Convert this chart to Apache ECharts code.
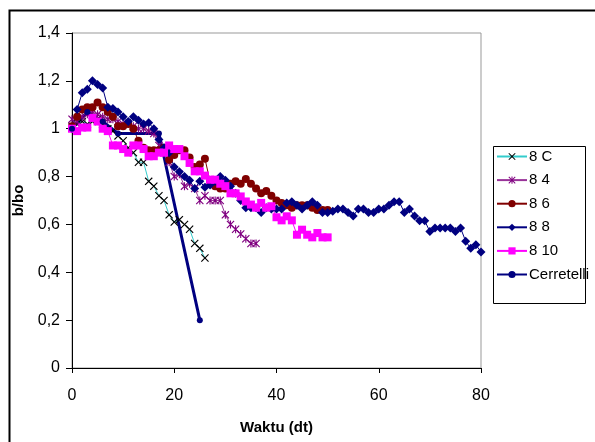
<!DOCTYPE html>
<html>
<head>
<meta charset="utf-8">
<title>b/bo - Waktu</title>
<script src="https://cdn.jsdelivr.net/npm/echarts@6/dist/echarts.min.js"></script>
<style>
  html, body { margin: 0; padding: 0; background: #fff; }
</style>
</head>
<body>
<div id="main" style="width:595px;height:442px;"></div>
<script type="text/javascript">
// data
var names = ['8 C', '8 4', '8 6', '8 8', '8 10', 'Cerretelli'];

var x8C = [0,1,2,3,4,5,6,7,8,9,10,11,12,13,14,15,16,17,18,19,20,21,22,23,24,25,26];
var y8C = [1.01,1.02,1.03,1.02,1.03,1.04,1.02,1.0,0.99,0.97,0.95,0.92,0.9,0.86,0.86,0.78,0.76,0.72,0.7,0.64,0.61,0.62,0.6,0.58,0.52,0.5,0.46];

var x84 = [0,1,2,3,4,5,6,7,8,9,10,11,12,13,14,15,16,17,18,19,20,21,22,23,24,25,26,27,28,29,30,31,32,33,34,35,36];
var y84 = [1.04,1.03,1.05,1.06,1.07,1.06,1.05,1.04,1.04,1.03,1.02,1.02,1.01,1.0,1.0,0.99,0.98,0.93,0.9,0.86,0.8,0.81,0.76,0.77,0.75,0.7,0.72,0.7,0.7,0.7,0.64,0.6,0.58,0.56,0.54,0.52,0.52];

var x86 = [0,1,2,3,4,5,6,7,8,9,10,11,12,13,14,15,16,17,18,19,20,21,22,23,24,25,26,27,28,29,30,31,32,33,34,35,36,37,38,39,40,41,42,43,44,45,46,47,48,49,50];
var y86 = [1.01,1.05,1.08,1.09,1.09,1.11,1.09,1.07,1.05,1.01,1.01,1.02,1.0,0.95,0.92,0.91,0.91,0.91,0.92,0.87,0.89,0.91,0.91,0.88,0.84,0.85,0.875,0.78,0.76,0.75,0.75,0.77,0.78,0.77,0.79,0.77,0.75,0.73,0.74,0.72,0.7,0.69,0.68,0.67,0.68,0.68,0.68,0.67,0.66,0.66,0.66];

var x88 = [0,1,2,3,4,5,6,7,8,9,10,11,12,13,14,15,16,17,18,19,20,21,22,23,24,25,26,27,28,29,30,31,32,33,34,35,36,37,38,39,40,41,42,43,44,45,46,47,48,49,50,51,52,53,54,55,56,57,58,59,60,61,62,63,64,65,66,67,68,69,70,71,72,73,74,75,76,77,78,79,80];
var y88 = [1.0,1.08,1.15,1.165,1.2,1.185,1.17,1.09,1.085,1.07,1.05,1.03,1.05,1.035,1.02,1.025,1.0,0.955,0.92,0.9,0.84,0.82,0.8,0.785,0.75,0.78,0.755,0.765,0.78,0.8,0.785,0.76,0.73,0.7,0.67,0.67,0.67,0.65,0.67,0.665,0.665,0.665,0.69,0.695,0.68,0.665,0.68,0.695,0.68,0.65,0.65,0.655,0.665,0.665,0.65,0.635,0.665,0.665,0.65,0.65,0.665,0.665,0.68,0.695,0.695,0.65,0.665,0.635,0.615,0.615,0.57,0.585,0.585,0.585,0.585,0.57,0.585,0.53,0.5,0.515,0.485];

var x810 = [0,1,2,3,4,5,6,7,8,9,10,11,12,13,14,15,16,17,18,19,20,21,22,23,24,25,26,27,28,29,30,31,32,33,34,35,36,37,38,39,40,41,42,43,44,45,46,47,48,49,50];
var y810 = [1.0,0.99,1.005,1.005,1.045,1.03,1.0,0.99,0.93,0.93,0.915,0.9,0.93,0.93,0.915,0.885,0.885,0.9,0.9,0.93,0.915,0.915,0.885,0.857,0.822,0.822,0.804,0.787,0.787,0.77,0.76,0.73,0.73,0.717,0.696,0.683,0.67,0.69,0.67,0.676,0.63,0.617,0.634,0.617,0.557,0.578,0.557,0.546,0.564,0.546,0.546];

var xCer = [0,3,6,9,17,25];
var yCer = [1.0,1.07,1.03,0.98,0.98,0.2];

var xTicks = [0, 20, 40, 60, 80];
var yTicks = [0, 0.2, 0.4, 0.6, 0.8, 1, 1.2, 1.4];

function zip(xs, ys) {
  var out = [];
  for (var i = 0; i < xs.length; i++) out.push([xs[i], ys[i]]);
  return out;
}

var crossPath = 'path://M0,1L1,0L5,4L9,0L10,1L6,5L10,9L9,10L5,6L1,10L0,9L4,5Z';
var starPath = 'path://M0,1L1,0L5,4L9,0L10,1L6,5L10,9L9,10L5,6L1,10L0,9L4,5Z M4.3,0L5.7,0L5.7,10L4.3,10Z';

var myChart = echarts.init(document.getElementById('main'), null, { renderer: 'canvas' });

var fontFam = 'Liberation Sans, Arial, sans-serif';

var option = {
  animation: false,
  backgroundColor: '#fff',
  textStyle: { fontFamily: fontFam },
  graphic: [
    { // outer frame
      type: 'rect', left: 7, top: 8, z: 0,
      shape: { width: 600, height: 450 },
      style: { fill: 'none', stroke: '#000', lineWidth: 2 }
    },
    { // legend box
      type: 'rect', left: 493, top: 146, z: 0,
      shape: { width: 92, height: 157 },
      style: { fill: '#fff', stroke: '#000', lineWidth: 1 }
    }
  ],
  grid: {
    left: 72, right: 114, top: 33, bottom: 74,
    show: true, borderColor: '#999', borderWidth: 1, backgroundColor: 'transparent'
  },
  legend: {
    orient: 'vertical',
    left: 496, top: 149,
    padding: 0,
    itemWidth: 30, itemHeight: 9, itemGap: 8.6,
    textStyle: { fontSize: 15, color: '#000', fontFamily: fontFam, padding: [0, 0, 0, -3] },
    data: names
  },
  xAxis: {
    type: 'value', min: 0, max: 80, interval: 20,
    name: 'Waktu (dt)', nameLocation: 'middle', nameGap: 52,
    nameTextStyle: { fontSize: 15, fontWeight: 'bold', color: '#000' },
    axisLine: { lineStyle: { color: '#000', width: 1 } },
    axisTick: { show: true, length: 5, lineStyle: { color: '#000' } },
    axisLabel: { fontSize: 16, color: '#000', margin: 20 },
    splitLine: { show: false }
  },
  yAxis: {
    type: 'value', min: 0, max: 1.4, interval: 0.2,
    name: 'b/bo', nameLocation: 'middle', nameGap: 45, nameRotate: 90,
    nameTextStyle: { fontSize: 15, fontWeight: 'bold', color: '#000' },
    axisLine: { show: true, lineStyle: { color: '#000', width: 1 } },
    axisTick: { show: true, length: 6, lineStyle: { color: '#000' } },
    axisLabel: {
      fontSize: 16, color: '#000', margin: 12,
      formatter: function (v) { return String(Math.round(v * 10) / 10).replace('.', ','); }
    },
    splitLine: { show: false }
  },
  series: [
    {
      name: names[0], type: 'line', data: zip(x8C, y8C),
      symbol: crossPath, symbolSize: 8,
      lineStyle: { color: '#33CCCC', width: 1 },
      itemStyle: { color: '#000' }
    },
    {
      name: names[1], type: 'line', data: zip(x84, y84),
      symbol: starPath, symbolSize: 8,
      lineStyle: { color: '#993399', width: 1 },
      itemStyle: { color: '#800080' }
    },
    {
      name: names[2], type: 'line', data: zip(x86, y86),
      symbol: 'circle', symbolSize: 8,
      lineStyle: { color: '#800000', width: 1 },
      itemStyle: { color: '#800000' }
    },
    {
      name: names[3], type: 'line', data: zip(x88, y88),
      symbol: 'diamond', symbolSize: 9,
      lineStyle: { color: '#000080', width: 1 },
      itemStyle: { color: '#000080' }
    },
    {
      name: names[4], type: 'line', data: zip(x810, y810),
      symbol: 'rect', symbolSize: 8,
      lineStyle: { color: '#FF00FF', width: 1 },
      itemStyle: { color: '#FF00FF' }
    },
    {
      name: names[5], type: 'line', data: zip(xCer, yCer),
      symbol: 'circle', symbolSize: 6,
      lineStyle: { color: '#000080', width: 3 },
      itemStyle: { color: '#000080' }
    }
  ]
};

myChart.setOption(option);
</script>
</body>
</html>
